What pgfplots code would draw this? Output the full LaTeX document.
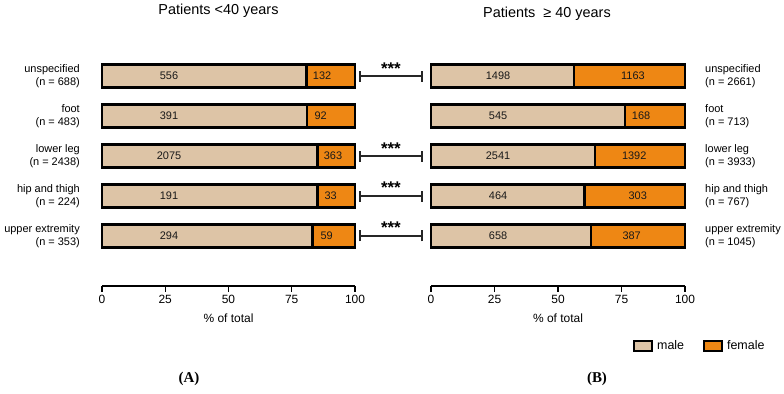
\documentclass[border=0pt]{standalone}
\usepackage{fontspec}
\setmainfont{Liberation Sans}
\newfontfamily\panelfont{Liberation Serif}
\usepackage{pgfplots}
\usepackage{pgfplotstable}
\pgfplotsset{compat=1.18}

\definecolor{male}{RGB}{221,196,166}
\definecolor{female}{RGB}{238,135,20}

% counts per injury site; mx/fx = where the count labels sit (% axis)
\pgfplotstableread{
y male female mx fx
4 556  132 26.5 87.0
3 391  92  26.5 86.4
2 2075 363 26.5 91.3
1 191  33  26.5 90.4
0 294  59  26.5 88.8
}\younger

\pgfplotstableread{
y male female mx fx
4 1498 1163 26.4 79.5
3 545  168  26.4 82.7
2 2541 1392 26.4 80.0
1 464  303  26.4 81.4
0 658  387  26.4 79.0
}\older

\pgfplotsset{
  panel/.style={scale only axis, height=240bp, xmin=0, xmax=100,
    ymin=-1.25, ymax=4.75, clip=false},
  barpanel/.style={panel, xbar stacked, bar width=23bp,
    axis x line*=bottom, x axis line style={-, line width=1.3bp},
    xtick={0,25,50,75,100}, tick align=outside, major tick length=6bp,
    xtick style={line width=1.3bp, black},
    ytick={0,...,4}, y axis line style={draw=none}, ytick style={draw=none},
    xticklabel style={font=\fontsize{12}{14}\selectfont},
    yticklabel style={font=\fontsize{11}{12.5}\selectfont},
    /pgf/number format/assume math mode=true,
    xlabel={\% of total},
    xlabel style={at={(axis description cs:0.5,0)}, anchor=base,
      yshift=-37bp, font=\fontsize{12}{14}\selectfont},
    title style={anchor=base, at={(axis description cs:0.5,1)},
      font=\fontsize{14.5}{16}\selectfont},
  },
  seg/.style={draw=black, line width=2.5bp, fill=#1},
  counts/.style={only marks, mark=none, nodes near coords,
    point meta=explicit symbolic,
    every node near coord/.append style={anchor=center,
      font=\fontsize{11}{13}\selectfont, text=black!90}},
  boxlegend/.style={legend image code/.code={%
    \draw[draw=black, line width=2bp, fill=#1] (0bp,-5bp) rectangle (18bp,5bp);
    \path[draw=none, fill=none] (0bp,0bp) -- (21bp,0bp);}},
}

\begin{document}
\begin{tikzpicture}
\path[use as bounding box] (0,0) rectangle (784bp,394bp);

% ---------- patients < 40 ----------
\begin{axis}[barpanel, width=253bp, at={(102bp,108bp)}, anchor=south west,
  axis y line*=left,
  yticklabels={{upper extremity\\(n = 353)}, {hip and thigh\\(n = 224)},
    {lower leg\\(n = 2438)}, {foot\\(n = 483)}, {unspecified\\(n = 688)}},
  yticklabel style={align=right, xshift=-12.7bp},
  title={Patients <40 years}, title style={yshift=26bp, xshift=-10bp}]
\addplot[seg=male] table[y=y,
  x expr=100*\thisrow{male}/(\thisrow{male}+\thisrow{female})] {\younger};
\addplot[seg=female] table[y=y,
  x expr=100*\thisrow{female}/(\thisrow{male}+\thisrow{female})] {\younger};
% significance brackets between the age groups
\pgfplotsinvokeforeach{0,1,2,4}{
  \draw[line width=1.2bp, black!85] (axis cs:102,#1) -- (axis cs:126.5,#1);
  \draw[line width=1.2bp, black!85] ([yshift=-5.5bp]axis cs:102,#1) -- ([yshift=5.5bp]axis cs:102,#1);
  \draw[line width=1.2bp, black!85] ([yshift=-5.5bp]axis cs:126.5,#1) -- ([yshift=5.5bp]axis cs:126.5,#1);
  \node[anchor=base, inner sep=0pt, font=\bfseries\fontsize{17}{17}\selectfont]
    at ([yshift=2bp]axis cs:114.2,#1) {***};
}
\end{axis}
\begin{axis}[panel, width=253bp, at={(102bp,108bp)}, anchor=south west, hide axis]
\addplot[counts] table[x=mx, y=y, meta=male] {\younger};
\addplot[counts] table[x=fx, y=y, meta=female] {\younger};
\end{axis}

% ---------- patients >= 40 ----------
\begin{axis}[barpanel, width=254bp, at={(431bp,108bp)}, anchor=south west,
  axis y line*=right,
  yticklabels={{upper extremity\\(n = 1045)}, {hip and thigh\\(n = 767)},
    {lower leg\\(n = 3933)}, {foot\\(n = 713)}, {unspecified\\(n = 2661)}},
  yticklabel style={align=left, xshift=10.7bp},
  title={Patients\ \ ≥ 40 years}, title style={yshift=23bp, xshift=-11bp}]
\addplot[seg=male] table[y=y,
  x expr=100*\thisrow{male}/(\thisrow{male}+\thisrow{female})] {\older};
\addplot[seg=female] table[y=y,
  x expr=100*\thisrow{female}/(\thisrow{male}+\thisrow{female})] {\older};
\end{axis}
\begin{axis}[panel, width=254bp, at={(431bp,108bp)}, anchor=south west, hide axis,
  legend columns=2,
  legend style={at={(0.795,-0.25)}, anchor=west, draw=none, fill=none,
    inner sep=0pt, font=\fontsize{12.5}{14}\selectfont,
    /tikz/every even column/.append style={column sep=17bp}},
  legend cell align=left]
\addplot[counts, forget plot] table[x=mx, y=y, meta=male] {\older};
\addplot[counts, forget plot] table[x=fx, y=y, meta=female] {\older};
\addlegendimage{boxlegend=male}
\addlegendentry{male}
\addlegendimage{boxlegend=female}
\addlegendentry{female}
\end{axis}

\node[font=\panelfont\bfseries\fontsize{15}{15}\selectfont] at (189bp,15bp) {(A)};
\node[font=\panelfont\bfseries\fontsize{15}{15}\selectfont] at (597bp,15bp) {(B)};
\end{tikzpicture}
\end{document}
